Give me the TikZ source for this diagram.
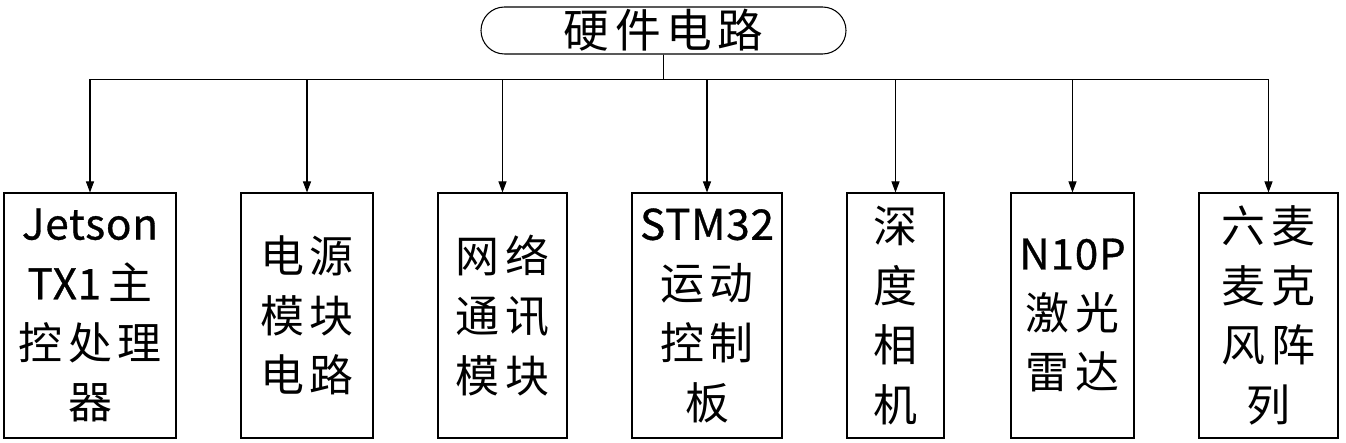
\documentclass[tikz,border=0pt]{standalone}
\usepackage{fontspec}
\setmainfont{Noto Sans CJK SC}
\newfontfamily\cjk[LetterSpace=12]{Noto Sans CJK SC}
\newfontfamily\latin[FakeBold=0.8,LetterSpace=2]{Noto Sans CJK SC}
\newcommand\en[1]{{\latin\fontsize{24}{34}\selectfont #1}}
\usetikzlibrary{arrows.meta,shapes.misc}
\tikzset{
  part/.style={draw,line width=0.6pt,minimum height=4.9cm,inner sep=0pt,align=center,
    font=\cjk\fontsize{25}{34}\selectfont},
  feed/.style={line width=0.6pt,-{Triangle[length=2.2mm,width=1.6mm]}}
}
\begin{document}
\begin{tikzpicture}
\useasboundingbox (0,0) rectangle (26.92,8.86);

\node[draw,line width=0.6pt,rounded rectangle,minimum width=7.3cm,minimum height=0.94cm,
  inner sep=0pt,font=\cjk\fontsize{26}{30}\selectfont] (hw) at (13.27,8.25) {硬件电路};

\node[part,minimum width=3.44cm] (b1) at (1.80,2.55) {\en{Jetson}\\\en{TX1}\,主\\控处理\\器};
\node[part,minimum width=2.64cm] (b2) at (6.14,2.55) {电源\\模块\\电路};
\node[part,minimum width=2.58cm] (b3) at (10.05,2.55) {网络\\通讯\\模块};
\node[part,minimum width=3.00cm] (b4) at (14.14,2.55) {\en{STM32}\\运动\\控制\\板};
\node[part,minimum width=1.94cm] (b5) at (17.91,2.55) {深\\度\\相\\机};
\node[part,minimum width=2.46cm] (b6) at (21.45,2.55) {\en{N10P}\\激光\\雷达};
\node[part,minimum width=2.78cm] (b7) at (25.37,2.55) {六麦\\麦克\\风阵\\列};

\foreach \b in {b1,b2,b3,b4,b5,b6,b7}
  \draw[feed] (hw.south) -- ++(0,-0.5) -| (\b.north);
\end{tikzpicture}
\end{document}
